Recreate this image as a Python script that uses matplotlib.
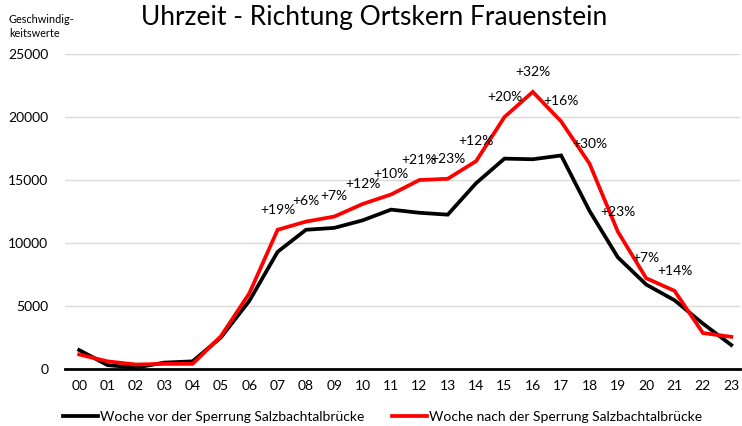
import matplotlib.pyplot as plt
import numpy as np

plt.rcParams['font.family'] = ['Lato', 'DejaVu Sans']

stunden = ['00', '01', '02', '03', '04', '05', '06', '07', '08', '09', '10', '11',
           '12', '13', '14', '15', '16', '17', '18', '19', '20', '21', '22', '23']
vorher = [1500, 300, 100, 500, 600, 2500, 5400, 9300, 11050, 11200, 11800, 12650,
          12400, 12250, 14750, 16700, 16650, 16950, 12550, 8860, 6700, 5450, 3600, 1900]
nachher = [1150, 600, 350, 400, 400, 2600, 6000, 11050, 11700, 12100, 13100, 13850,
           15000, 15100, 16500, 20000, 22000, 19650, 16300, 10900, 7200, 6200, 2850, 2550]
# Prozentangaben an der roten Linie (Stunde -> Text)
label_idx = [7, 8, 9, 10, 11, 12, 13, 14, 15, 16, 17, 18, 19, 20, 21]
label_txt = ['+19%', '+6%', '+7%', '+12%', '+10%', '+21%', '+23%', '+12%', '+20%',
             '+32%', '+16%', '+30%', '+23%', '+7%', '+14%']

fig = plt.figure(figsize=(7.42, 4.26), dpi=100)
ax = fig.add_axes([0.0876, 0.134, 0.9094, 0.739])

x = np.arange(len(stunden))
ax.plot(x, vorher, color='black', lw=2.7, solid_joinstyle='miter',
        label='Woche vor der Sperrung Salzbachtalbrücke', zorder=3)
ax.plot(x, nachher, color='#ff0000', lw=2.7, solid_joinstyle='miter',
        label='Woche nach der Sperrung Salzbachtalbrücke', zorder=4)

for i, t in zip(label_idx, label_txt):
    ax.annotate(t, (x[i], nachher[i]), xytext=(0, 14.5), textcoords='offset points',
                ha='center', va='center', fontsize=10, color='black', zorder=5)

ax.set_xlim(-0.5, 23.3)
ax.set_ylim(0, 25000)
ax.set_yticks(range(0, 25001, 5000))
ax.set_xticks(x)
ax.set_xticklabels(stunden)
ax.tick_params(axis='both', length=0, labelsize=10, colors='black')
ax.tick_params(axis='x', pad=8)
ax.tick_params(axis='y', pad=12)
ax.yaxis.grid(True, color='#d9d9d9', lw=1)
ax.set_axisbelow(True)
for s in ['top', 'right', 'left']:
    ax.spines[s].set_visible(False)
ax.spines['bottom'].set_linewidth(2)
ax.spines['bottom'].set_zorder(2)

fig.text(0.504, 0.958, 'Uhrzeit - Richtung Ortskern Frauenstein', ha='center', va='center',
         fontsize=19)
fig.text(0.012, 0.968, 'Geschwindig-\nkeitswerte', ha='left', va='top', fontsize=7.8,
         linespacing=1.35)

fig.legend(loc='center', bbox_to_anchor=(0.516, 0.022), ncol=2, frameon=False,
           fontsize=10, handlelength=2.5, handletextpad=0.15, columnspacing=2.0)

fig.savefig('out.png', dpi=100)
